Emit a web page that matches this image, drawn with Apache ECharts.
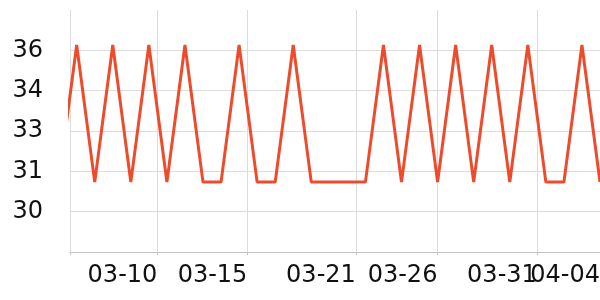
<!DOCTYPE html>
<html>
<head>
<meta charset="utf-8">
<script src="https://cdn.jsdelivr.net/npm/echarts@6/dist/echarts.min.js"></script>
<style>
html,body{margin:0;padding:0;background:#fff;}
#chart{width:600px;height:300px;}
</style>
</head>
<body>
<div id="chart"></div>
<script>
// Daily readings (first one lies just left of the visible window)
const values = [31.1, 36.2, 31.1, 36.2, 31.1, 36.2, 31.1, 36.2, 31.1, 31.1,
                36.2, 31.1, 31.1, 36.2, 31.1, 31.1, 31.1, 31.1, 36.2, 31.1,
                36.2, 31.1, 36.2, 31.1, 36.2, 31.1, 36.2, 31.1, 31.1, 36.2, 31.1];
// x window (in reading index units)
const xMin = 0.63, xMax = 30;
// date ticks (positions in reading-index units) and their labels
const tickPositions = [5.47, 10.46, 16.47, 20.99, 26.5, 30];
const tickLabels = ['03-10', '03-15', '03-21', '03-26', '03-31', '04-04'];
// y ticks
const yTicks = [30, 31.5, 33, 34.5, 36];

const seriesData = values.map((v, i) => [i, v]);
// label order: keep the two overlapping end labels apart in the list so both stay visible
const labelOrder = [tickPositions[0], tickPositions[5], tickPositions[1], tickPositions[2], tickPositions[3], tickPositions[4]];

const chart = echarts.init(document.getElementById('chart'), null, {renderer: 'canvas'});
chart.setOption({
  animation: false,
  grid: {left: 70, right: 0, top: 10, bottom: 48, containLabel: false, outerBoundsMode: 'none'},
  xAxis: {
    type: 'value',
    min: xMin, max: xMax,
    axisLine: {show: true, lineStyle: {color: '#c4c4c4', width: 1}},
    axisTick: {show: true, length: 3, lineStyle: {color: '#c4c4c4'}, customValues: [xMin].concat(tickPositions)},
    splitLine: {show: true, lineStyle: {color: '#dcdcdc', width: 1}},
    axisLabel: {
      customValues: labelOrder,
      align: 'right',
      margin: 12,
      showMinLabel: true,
      showMaxLabel: true,
      hideOverlap: false,
      color: '#111',
      fontFamily: 'DejaVu Sans',
      fontSize: 24,
      formatter: function (v) {
        let best = -1, bd = 1e9;
        tickPositions.forEach((p, j) => { const d = Math.abs(p - v); if (d < bd) { bd = d; best = j; } });
        return bd < 0.01 ? tickLabels[best] : '';
      }
    }
  },
  yAxis: {
    type: 'value',
    min: 28.5, max: 37.5,
    axisLine: {show: false},
    axisTick: {show: false, customValues: yTicks},
    splitLine: {show: true, lineStyle: {color: '#dcdcdc', width: 1}},
    axisLabel: {
      customValues: yTicks,
      margin: 27,
      padding: [5, 0, 0, 0],
      color: '#111',
      fontFamily: 'DejaVu Sans',
      fontSize: 24,
      formatter: function (v) { return String(Math.floor(v)); }
    }
  },
  series: [{
    type: 'line',
    data: seriesData,
    showSymbol: false,
    symbol: 'none',
    clip: true,
    lineStyle: {color: '#ee4b2c', width: 3},
    itemStyle: {color: '#ee4b2c'}
  }]
});
</script>
</body>
</html>
